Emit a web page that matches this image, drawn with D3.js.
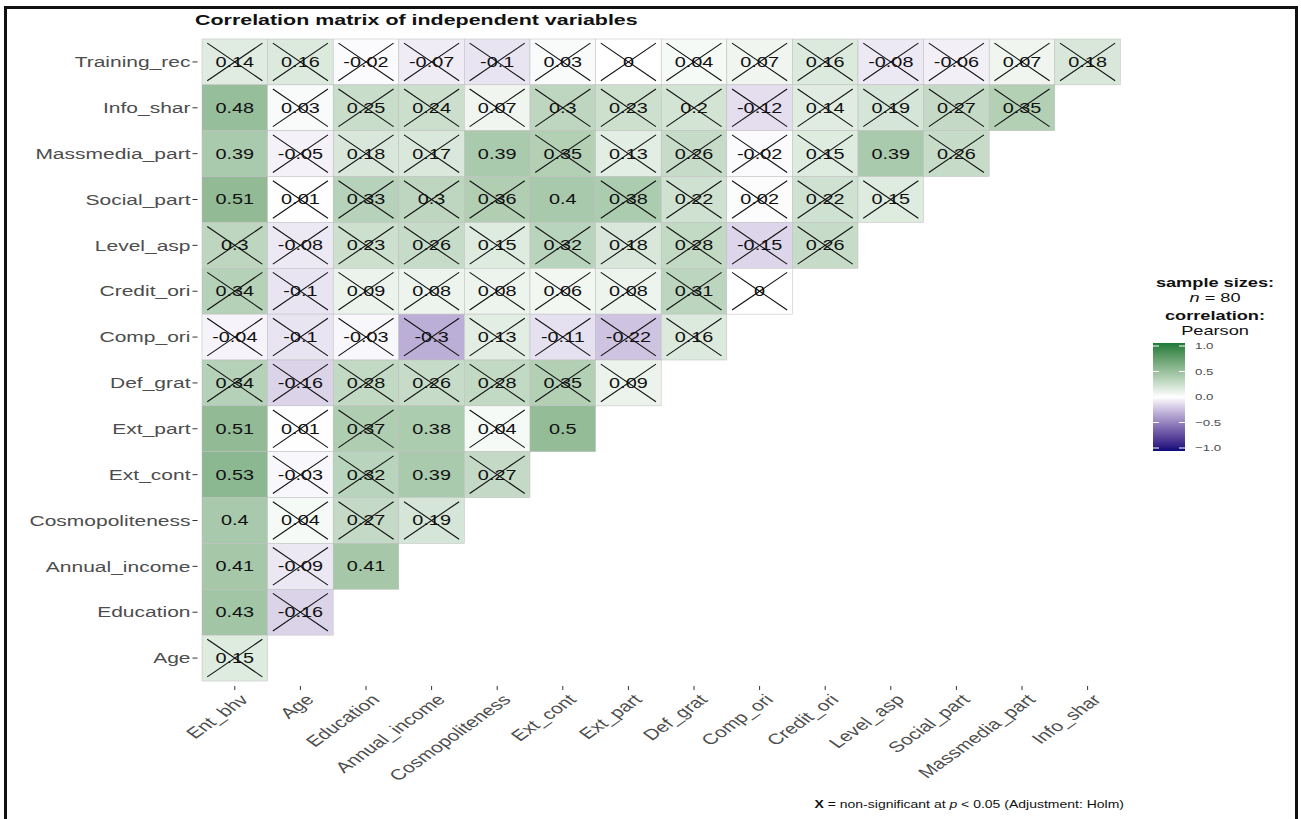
<!DOCTYPE html>
<html><head><meta charset="utf-8">
<script src="https://cdn.jsdelivr.net/npm/d3@7"></script>
<style>
html,body{margin:0;padding:0;background:#fff;}
text{font-family:"Liberation Sans",Arial,sans-serif;}
</style></head>
<body>
<svg id="chart" width="1301" height="819"></svg>
<script>
// ---------- data ----------
const rowVars = ["Training_rec","Info_shar","Massmedia_part","Social_part","Level_asp","Credit_ori","Comp_ori","Def_grat","Ext_part","Ext_cont","Cosmopoliteness","Annual_income","Education","Age"];
const colVars = ["Ent_bhv","Age","Education","Annual_income","Cosmopoliteness","Ext_cont","Ext_part","Def_grat","Comp_ori","Credit_ori","Level_asp","Social_part","Massmedia_part","Info_shar"];

// correlation values per row (left to right)
const r_Training_rec   = [0.14,0.16,-0.02,-0.07,-0.1,0.03,0,0.04,0.07,0.16,-0.08,-0.06,0.07,0.18];
const r_Info_shar      = [0.48,0.03,0.25,0.24,0.07,0.3,0.23,0.2,-0.12,0.14,0.19,0.27,0.35];
const r_Massmedia_part = [0.39,-0.05,0.18,0.17,0.39,0.35,0.13,0.26,-0.02,0.15,0.39,0.26];
const r_Social_part    = [0.51,0.01,0.33,0.3,0.36,0.4,0.38,0.22,0.02,0.22,0.15];
const r_Level_asp      = [0.3,-0.08,0.23,0.26,0.15,0.32,0.18,0.28,-0.15,0.26];
const r_Credit_ori     = [0.34,-0.1,0.09,0.08,0.08,0.06,0.08,0.31,0];
const r_Comp_ori       = [-0.04,-0.1,-0.03,-0.3,0.13,-0.11,-0.22,0.16];
const r_Def_grat       = [0.34,-0.16,0.28,0.26,0.28,0.35,0.09];
const r_Ext_part       = [0.51,0.01,0.37,0.38,0.04,0.5];
const r_Ext_cont       = [0.53,-0.03,0.32,0.39,0.27];
const r_Cosmopoliteness= [0.4,0.04,0.27,0.19];
const r_Annual_income  = [0.41,-0.09,0.41];
const r_Education      = [0.43,-0.16];
const r_Age            = [0.15];

// significance flags (1 = significant, 0 = crossed out)
const s_Training_rec   = [0,0,0,0,0,0,0,0,0,0,0,0,0,0];
const s_Info_shar      = [1,0,0,0,0,0,0,0,0,0,0,0,0];
const s_Massmedia_part = [1,0,0,0,1,0,0,0,0,0,1,0];
const s_Social_part    = [1,0,0,0,0,1,0,0,0,0,0];
const s_Level_asp      = [0,0,0,0,0,0,0,0,0,0];
const s_Credit_ori     = [0,0,0,0,0,0,0,0,0];
const s_Comp_ori       = [0,0,0,0,0,0,0,0];
const s_Def_grat       = [0,0,0,0,0,0,0];
const s_Ext_part       = [1,0,0,1,0,1];
const s_Ext_cont       = [1,0,0,1,0];
const s_Cosmopoliteness= [1,0,0,0];
const s_Annual_income  = [1,0,1];
const s_Education      = [1,0];
const s_Age            = [0];

const rowValues = [r_Training_rec,r_Info_shar,r_Massmedia_part,r_Social_part,r_Level_asp,r_Credit_ori,r_Comp_ori,r_Def_grat,r_Ext_part,r_Ext_cont,r_Cosmopoliteness,r_Annual_income,r_Education,r_Age];
const rowSig = [s_Training_rec,s_Info_shar,s_Massmedia_part,s_Social_part,s_Level_asp,s_Credit_ori,s_Comp_ori,s_Def_grat,s_Ext_part,s_Ext_cont,s_Cosmopoliteness,s_Annual_income,s_Education,s_Age];

const legendBreaks = [1.0,0.5,0.0,-0.5,-1.0];
const titleText = "Correlation matrix of independent variables";
const sampleN = 80;

// ---------- layout ----------
const SX = 1.4; // horizontal stretch of glyphs
const svg = d3.select("#chart");
const lowCol = "#0a0a78", midCol = "#ffffff", highCol = "#1b7a38";
const color = d3.scaleLinear().domain([-1,0,1]).range([lowCol,midCol,highCol]).interpolate(d3.interpolateLab);

const x = d3.scaleBand().domain(colVars).range([202,1120.4]).padding(0);
const y = d3.scaleBand().domain(rowVars).range([39,681]).padding(0);

function stext(g, tx, ty, str, opts={}) {
  const t = g.append("text")
    .attr("transform", `translate(${tx},${ty}) scale(${SX},1)` + (opts.rot ? ` rotate(${opts.rot})` : ""))
    .attr("text-anchor", opts.anchor || "start")
    .attr("font-size", opts.size || 15)
    .attr("fill", opts.fill || "#000");
  if (opts.weight) t.attr("font-weight", opts.weight);
  if (opts.dy) t.attr("dy", opts.dy);
  t.text(str);
  return t;
}

// frame
svg.append("rect").attr("x",5.5).attr("y",7.5).attr("width",1291).attr("height",830)
  .attr("fill","none").attr("stroke","#111").attr("stroke-width",3);

// cells
const cells = [];
rowVars.forEach((rv,i)=>{
  rowValues[i].forEach((v,j)=>{
    cells.push({row:rv,col:colVars[j],v:v,sig:rowSig[i][j]});
  });
});

const gCells = svg.append("g");
gCells.selectAll("rect").data(cells).join("rect")
  .attr("x",d=>x(d.col)).attr("y",d=>y(d.row))
  .attr("width",x.bandwidth()).attr("height",y.bandwidth())
  .attr("fill",d=>color(d.v))
  .attr("stroke","#bdbdbd").attr("stroke-width",0.5);

// labels in cells
cells.forEach(d=>{
  stext(gCells, x(d.col)+x.bandwidth()/2, y(d.row)+y.bandwidth()/2, String(d.v),
    {anchor:"middle", size:14.2, fill:"#111", dy:"0.35em"});
});

// crosses
const bw = x.bandwidth(), bh = y.bandwidth();
const gX = svg.append("g").attr("stroke","#111").attr("stroke-width",1.1);
cells.filter(d=>!d.sig).forEach(d=>{
  const cx = x(d.col)+bw/2, cy = y(d.row)+bh/2;
  const dx = bw*0.42, dy = bh*0.41;
  gX.append("line").attr("x1",cx-dx).attr("y1",cy-dy).attr("x2",cx+dx).attr("y2",cy+dy);
  gX.append("line").attr("x1",cx-dx).attr("y1",cy+dy).attr("x2",cx+dx).attr("y2",cy-dy);
});

// y axis
const gy = svg.append("g");
rowVars.forEach(rv=>{
  const cy = y(rv)+bh/2;
  gy.append("line").attr("x1",192.5).attr("x2",197.5).attr("y1",cy).attr("y2",cy).attr("stroke","#333").attr("stroke-width",1);
  stext(gy, 190.5, cy, rv, {anchor:"end", size:15, fill:"#4d4d4d", dy:"0.35em"});
});

// x axis
const gxA = svg.append("g");
colVars.forEach(cv=>{
  const cx = x(cv)+bw/2;
  gxA.append("line").attr("x1",cx).attr("x2",cx).attr("y1",686).attr("y2",690).attr("stroke","#333").attr("stroke-width",1);
  stext(gxA, cx+4, 693, cv, {anchor:"end", size:15, fill:"#4d4d4d", rot:-45, dy:"0.72em"});
});

// title
stext(svg, 195, 25, titleText, {size:15.3, weight:"bold", fill:"#111"});

// legend
const lx = 1215;
stext(svg, lx, 287, "sample sizes:", {anchor:"middle", size:13, weight:"bold", fill:"#111"});
const nT = svg.append("text").attr("transform",`translate(${lx},302) scale(${SX},1)`)
  .attr("text-anchor","middle").attr("font-size",13).attr("fill","#111");
nT.append("tspan").attr("font-style","italic").text("n");
nT.append("tspan").text(" = " + sampleN);
stext(svg, lx, 320, "correlation:", {anchor:"middle", size:13, weight:"bold", fill:"#111"});
stext(svg, lx, 335, "Pearson", {anchor:"middle", size:13, fill:"#111"});

const barX = 1153, barW = 32, barTop = 343, barBot = 451;
const ly = d3.scaleLinear().domain([1,-1]).range([barTop+3,barBot-3]);
const defs = svg.append("defs");
const grad = defs.append("linearGradient").attr("id","lg").attr("x1",0).attr("y1",0).attr("x2",0).attr("y2",1);
d3.range(0,21).forEach(k=>{
  const v = 1 - k/10;
  grad.append("stop").attr("offset",k/20).attr("stop-color",color(v));
});
svg.append("rect").attr("x",barX).attr("y",barTop).attr("width",barW).attr("height",barBot-barTop).attr("fill","url(#lg)");
legendBreaks.forEach(b=>{
  const yy = ly(b);
  svg.append("line").attr("x1",barX).attr("x2",barX+6).attr("y1",yy).attr("y2",yy).attr("stroke","#fff").attr("stroke-width",1);
  svg.append("line").attr("x1",barX+barW-6).attr("x2",barX+barW).attr("y1",yy).attr("y2",yy).attr("stroke","#fff").attr("stroke-width",1);
  stext(svg, 1195, yy, d3.format(".1f")(b), {size:9.5, fill:"#4d4d4d", dy:"0.35em"});
});

// caption
const cap = svg.append("text").attr("transform",`translate(1124,808) scale(${SX},1)`)
  .attr("text-anchor","end").attr("font-size",10).attr("fill","#111");
cap.append("tspan").attr("font-weight","bold").text("X");
cap.append("tspan").text(" = non-significant at ");
cap.append("tspan").attr("font-style","italic").text("p");
cap.append("tspan").text(" < 0.05 (Adjustment: Holm)");
</script>
</body></html>
